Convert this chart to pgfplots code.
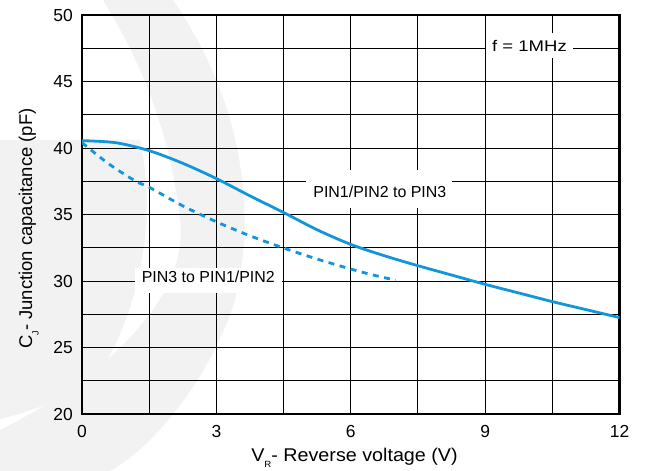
\documentclass[border=0pt]{standalone}
\usepackage{graphicx}
\usepackage{pgfplots}
\pgfplotsset{compat=1.18}
\usepackage{fontspec}
\setmainfont{Liberation Sans}
\definecolor{curveblue}{RGB}{18,150,218}
\definecolor{wmark}{RGB}{242,242,242}

\newcommand{\lowsub}[1]{\raisebox{-6.5bp}{\fontsize{9}{9}\selectfont #1}}

\begin{document}
\begin{tikzpicture}
\path[use as bounding box] (-82bp,-57bp) rectangle (563bp,414bp);
% faint watermark in the background
\fill[wmark] (91bp,414bp) .. controls (153bp,324bp) and (178bp,214bp) .. (153bp,114bp)
    .. controls (128bp,34bp) and (68bp,-36bp) .. (28bp,-57bp) -- (-82bp,-57bp) -- (-82bp,-16bp)
    .. controls (18bp,34bp) and (108bp,114bp) .. (98bp,194bp)
    .. controls (88bp,284bp) and (58bp,354bp) .. (21bp,414bp) -- cycle;
\fill[wmark] (-82bp,274bp) -- (58bp,274bp) .. controls (75bp,200bp) and (60bp,100bp) .. (10bp,30bp)
    .. controls (-30bp,10bp) and (-60bp,0bp) .. (-82bp,-5bp) -- cycle;
\begin{axis}[
    at={(0,0)}, anchor=south west,
    scale only axis, width=537.5bp, height=399bp,
    xmin=0, xmax=12, ymin=20, ymax=50,
    xtick={0,3,...,12}, minor xtick={1.5,4.5,7.5,10.5},
    ytick={20,25,...,50}, minor ytick={22.5,27.5,...,47.5},
    grid=both,
    major grid style={black, line width=0.9bp},
    minor grid style={black, line width=0.9bp},
    major tick length=0pt, minor tick length=0pt,
    axis line style={line width=2.3bp},
    /pgf/number format/assume math mode=true,
    tick label style={font=\fontsize{17.5}{18}\selectfont, inner sep=0pt},
    yticklabel style={anchor=east, xshift=-9bp},
    xticklabel style={anchor=north, yshift=-11bp},
    label style={font=\fontsize{18.5}{20}\selectfont},
    xlabel={\scalebox{1.07}[1]{V\lowsub{R}- Reverse voltage (V)}},
    ylabel={C\lowsub{J}- Junction capacitance (pF)},
    xlabel style={at={(axis description cs:0.507,0)}, anchor=base, yshift=-47bp},
    ylabel style={at={(axis description cs:-0.093,0.465)}, anchor=base},
]
% white label boxes over the grid
\fill[white] (axis cs:5.0,35.5) rectangle (axis cs:8.26,38.35);
\fill[white] (axis cs:1.18,29.1) rectangle (axis cs:4.46,30.98);
\fill[white] (axis cs:9.02,46.77) rectangle (axis cs:10.96,48.65);

% PIN1/PIN2 to PIN3
\addplot[curveblue, line width=2.8bp, smooth, tension=0.5] coordinates {
    (0,40.55) (0.75,40.4) (1.5,39.8) (2.25,38.85) (3,37.7) (3.75,36.4)
    (4.5,35.15) (5.25,33.85) (6,32.75) (6.75,31.9) (7.5,31.15) (8.25,30.45)
    (9,29.75) (9.75,29.1) (10.5,28.45) (11.25,27.85) (12,27.25)
};
% PIN3 to PIN1/PIN2
\addplot[curveblue, line width=2.8bp, smooth, tension=0.5, dash pattern=on 6bp off 5.5bp] coordinates {
    (0,40.4) (0.6,38.8) (1.2,37.5) (1.5,37.05) (2.25,35.65) (3,34.45)
    (3.75,33.4) (4.5,32.48) (5.25,31.65) (6,30.9) (6.5,30.45) (7,30.06)
};

\node[font=\fontsize{16}{18}\selectfont] at (axis cs:6.65,36.72) {PIN1/PIN2 to PIN3};
\node[font=\fontsize{16}{18}\selectfont] at (axis cs:2.82,30.35) {PIN3 to PIN1/PIN2};
\node[font=\fontsize{15.5}{18}\selectfont] at (axis cs:9.99,47.7) {\scalebox{1.2}[1]{f = 1MHz}};
\end{axis}
\end{tikzpicture}
\end{document}
